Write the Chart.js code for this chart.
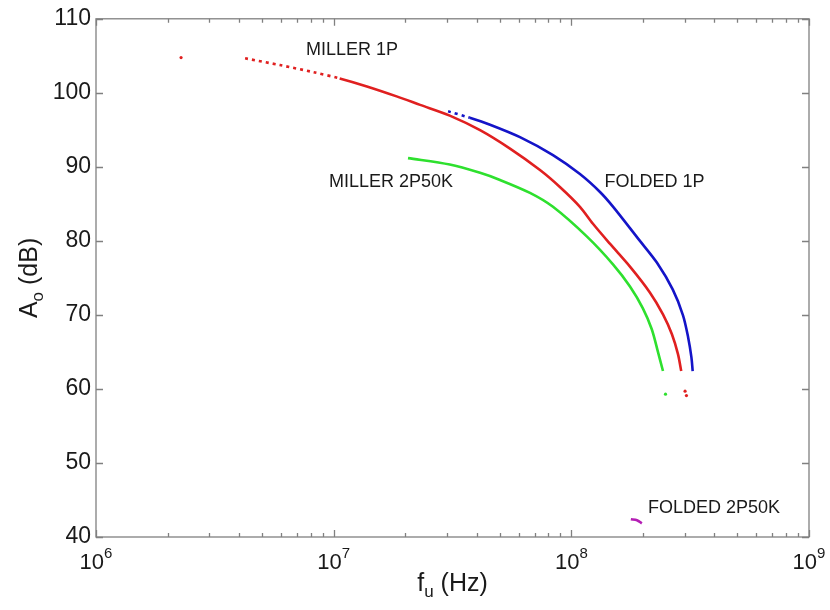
<!DOCTYPE html>
<html><head><meta charset="utf-8">
<script src="https://cdn.jsdelivr.net/npm/chart.js@4/dist/chart.umd.min.js"></script>
<style>html,body{margin:0;padding:0;background:#fff}canvas{display:block}</style>
</head><body>
<canvas id="c" width="830" height="610"></canvas>
<script>
// ---- data ----
const xTickValues = [1e6, 1e7, 1e8, 1e9];
const xTickExponents = ['6', '7', '8', '9'];
const yTickValues = [40, 50, 60, 70, 80, 90, 100, 110];

const miller1pFreq = [4.24e6, 5.94e6, 8.18e6, 1.06e7, 1.38e7, 1.84e7, 2.31e7, 3.08e7, 4.13e7, 5.52e7, 7.38e7, 8.95e7, 1.087e8, 1.233e8, 1.453e8, 1.765e8, 2.14e8, 2.43e8, 2.65e8, 2.81e8, 2.90e8];
const miller1pGain = [104.66, 103.75, 102.81, 101.94, 100.86, 99.52, 98.37, 96.92, 94.95, 92.46, 89.57, 87.28, 84.60, 82.31, 79.62, 76.53, 73.04, 70.08, 67.39, 64.70, 62.42];
const miller1pLooseFreq = [2.28e6, 3.01e8, 3.05e8];
const miller1pLooseGain = [104.76, 59.7, 59.1];

const folded1pFreq = [3.03e7, 3.74e7, 4.55e7, 6.08e7, 8.37e7, 1.087e8, 1.32e8, 1.50e8, 1.94e8, 2.29e8, 2.67e8, 2.95e8, 3.10e8, 3.20e8, 3.24e8];
const folded1pGain = [97.50, 96.63, 95.69, 94.01, 91.59, 89.03, 86.61, 84.60, 80.03, 77.07, 73.44, 69.95, 66.99, 64.30, 62.42];

const miller2pFreq = [2.055e7, 3.08e7, 4.13e7, 5.01e7, 6.70e7, 8.37e7, 1.164e8, 1.50e8, 1.765e8, 2.00e8, 2.18e8, 2.31e8, 2.43e8];
const miller2pGain = [91.18, 90.31, 89.19, 88.23, 86.48, 84.60, 80.57, 76.80, 73.84, 70.89, 68.06, 65.11, 62.42];
const miller2pLooseFreq = [2.49e8];
const miller2pLooseGain = [59.29];

const folded2pFreq = [1.78e8, 1.89e8, 1.98e8];
const folded2pGain = [42.39, 42.26, 41.85];

const seriesNames = ['MILLER 1P', 'FOLDED 1P', 'MILLER 2P50K', 'FOLDED 2P50K'];

// ---- build ----
const pts = (xs, ys) => xs.map((x, i) => ({x, y: ys[i]}));
const FONT = '"Liberation Sans", Arial, Helvetica, sans-serif';
const RED = '#e02020', BLUE = '#1414c8', GREEN = '#2ee02e', MAG = '#b41eb4';

function lineSet(label, data, color, dashBelow) {
  return {
    label, data, showLine: true, borderColor: color, backgroundColor: color,
    borderWidth: 2.6, pointRadius: 0, tension: 0.3,
    segment: dashBelow ? { borderDash: ctx => ctx.p1.parsed.x <= dashBelow ? [3, 4] : undefined } : undefined
  };
}
function dotSet(label, data, color) {
  return { label, data, showLine: false, pointRadius: 1.6, pointBorderWidth: 0,
           backgroundColor: color, borderColor: color };
}

// label anchors in data coordinates (left edge, middle)
const annotations = [
  { text: seriesNames[0], x: 7.65e6, y: 105.83 },
  { text: seriesNames[2], x: 9.55e6, y: 87.96 },
  { text: seriesNames[1], x: 1.38e8, y: 87.96 },
  { text: seriesNames[3], x: 2.10e8, y: 43.87 }
];

const framePlugin = {
  id: 'frame',
  afterDatasetsDraw(chart) {
    const ctx = chart.ctx, a = chart.chartArea;
    const xs = chart.scales.x, ys = chart.scales.y;
    ctx.save();
    // box
    ctx.strokeStyle = '#808080';
    ctx.lineWidth = 1.3;
    ctx.strokeRect(a.left, a.top, a.right - a.left, a.bottom - a.top);
    // x ticks (major + minor), bottom and top, inward
    ctx.beginPath();
    for (let e = 6; e <= 9; e++) {
      for (let k = 1; k <= 9; k++) {
        const v = k * Math.pow(10, e);
        if (v > 1e9) break;
        const px = Math.round(xs.getPixelForValue(v)) + 0.5;
        const len = k === 1 ? 7 : 4;
        ctx.moveTo(px, a.bottom); ctx.lineTo(px, a.bottom - len);
        ctx.moveTo(px, a.top); ctx.lineTo(px, a.top + len);
      }
    }
    // y ticks left and right
    yTickValues.forEach(v => {
      const py = Math.round(ys.getPixelForValue(v)) + 0.5;
      ctx.moveTo(a.left, py); ctx.lineTo(a.left + 7, py);
      ctx.moveTo(a.right, py); ctx.lineTo(a.right - 7, py);
    });
    ctx.stroke();

    // x tick labels 10^n
    ctx.fillStyle = '#1a1a1a';
    ctx.textBaseline = 'alphabetic';
    ctx.textAlign = 'left';
    xTickValues.forEach((v, i) => {
      const px = xs.getPixelForValue(v);
      ctx.font = '22px ' + FONT;
      const wb = ctx.measureText('10').width;
      ctx.font = '15px ' + FONT;
      const we = ctx.measureText(xTickExponents[i]).width;
      const x0 = px - (wb + we) / 2;
      ctx.font = '22px ' + FONT;
      ctx.fillText('10', x0, 569);
      ctx.font = '15px ' + FONT;
      ctx.fillText(xTickExponents[i], x0 + wb, 558);
    });

    // axis titles with subscripts
    function subTitle(main, sub, rest) {
      ctx.font = '25px ' + FONT;
      const w1 = ctx.measureText(main).width;
      const w3 = ctx.measureText(rest).width;
      ctx.font = '17px ' + FONT;
      const w2 = ctx.measureText(sub).width;
      const total = w1 + w2 + w3;
      let x = -total / 2;
      ctx.font = '25px ' + FONT; ctx.fillText(main, x, 0); x += w1;
      ctx.font = '17px ' + FONT; ctx.fillText(sub, x, 6); x += w2;
      ctx.font = '25px ' + FONT; ctx.fillText(rest, x, 0);
    }
    ctx.save();
    ctx.translate((a.left + a.right) / 2, 591);
    subTitle('f', 'u', ' (Hz)');
    ctx.restore();
    ctx.save();
    ctx.translate(37, (a.top + a.bottom) / 2);
    ctx.rotate(-Math.PI / 2);
    subTitle('A', 'o', ' (dB)');
    ctx.restore();

    // series annotations
    ctx.font = '18px ' + FONT;
    ctx.textBaseline = 'middle';
    ctx.textAlign = 'left';
    annotations.forEach(t => {
      ctx.fillText(t.text, xs.getPixelForValue(t.x), ys.getPixelForValue(t.y));
    });
    ctx.restore();
  }
};

new Chart(document.getElementById('c'), {
  type: 'scatter',
  data: {
    datasets: [
      lineSet(seriesNames[0], pts(miller1pFreq, miller1pGain), RED, 1.1e7),
      dotSet(seriesNames[0] + ' (isolated)', pts(miller1pLooseFreq, miller1pLooseGain), RED),
      lineSet(seriesNames[1], pts(folded1pFreq, folded1pGain), BLUE, 4.0e7),
      lineSet(seriesNames[2], pts(miller2pFreq, miller2pGain), GREEN, null),
      dotSet(seriesNames[2] + ' (isolated)', pts(miller2pLooseFreq, miller2pLooseGain), GREEN),
      lineSet(seriesNames[3], pts(folded2pFreq, folded2pGain), MAG, null)
    ]
  },
  options: {
    responsive: false,
    animation: false,
    layout: { padding: { top: 16, right: 21, left: 0, bottom: 0 } },
    plugins: { legend: { display: false }, tooltip: { enabled: false } },
    scales: {
      x: {
        type: 'logarithmic', min: 1e6, max: 1e9,
        grid: { display: false }, border: { display: false },
        ticks: { display: false },
        afterFit: s => { s.height = 73; }
      },
      y: {
        type: 'linear', min: 40, max: 110,
        grid: { display: false, drawTicks: false }, border: { display: false },
        afterBuildTicks: s => { s.ticks = yTickValues.map(v => ({ value: v })); },
        ticks: { padding: 5, color: '#1a1a1a', font: { size: 23, family: FONT } },
        afterFit: s => { s.width = 96; }
      }
    }
  },
  plugins: [framePlugin]
});
</script>
</body></html>
